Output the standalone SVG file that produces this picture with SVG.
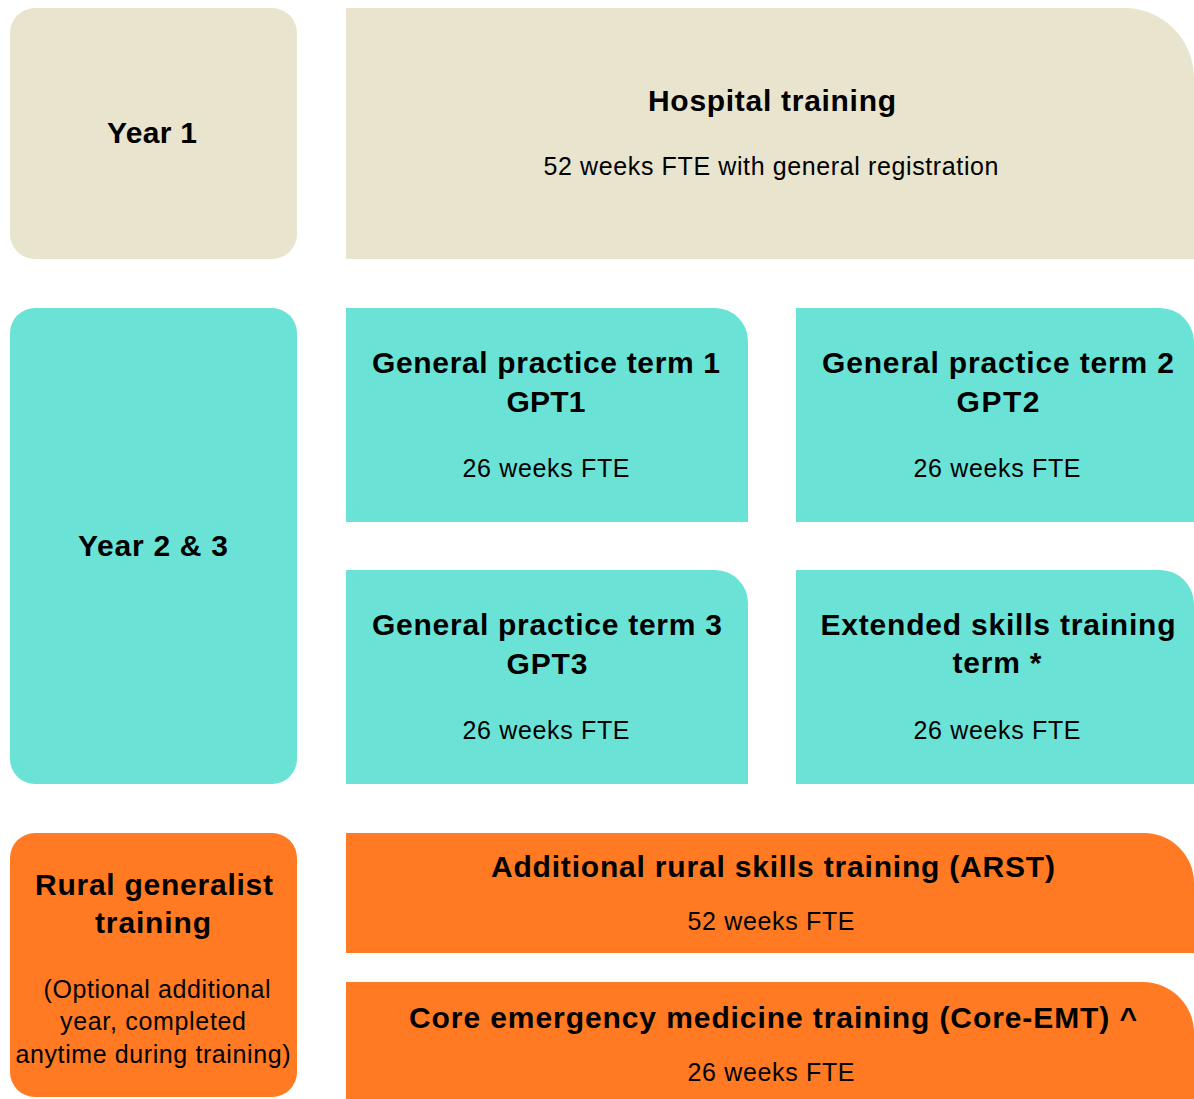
<svg xmlns="http://www.w3.org/2000/svg" width="1194" height="1099" viewBox="0 0 1194 1099">
  <style>
    .beige { fill: #E8E4CE; }
    .teal { fill: #6BE3D6; }
    .orange { fill: #FF7A21; }
    text { font-family: "Liberation Sans", Arial, sans-serif; fill: #000; text-anchor: middle; }
    .t { font-size: 30px; font-weight: bold; }
    .s { font-size: 25px; }
  </style>
  <defs>
    <filter id="soft" x="-5%" y="-5%" width="110%" height="110%">
      <feGaussianBlur stdDeviation="0.7"/>
    </filter>
  </defs>
  <rect width="1194" height="1099" fill="#FFFFFF"/>

  <g id="year1">
    <rect class="beige" x="10" y="8" width="287" height="251" rx="25" filter="url(#soft)"/>
    <text class="t" x="152" y="143" textLength="90" lengthAdjust="spacing">Year 1</text>
  </g>

  <g id="hospital">
    <path class="beige" d="M346,8 H1124 A70,70 0 0 1 1194,78 V259 H346 Z" filter="url(#soft)"/>
    <text class="t" x="772" y="111" textLength="248" lengthAdjust="spacing">Hospital training</text>
    <text class="s" x="771" y="175" textLength="455" lengthAdjust="spacing">52 weeks FTE with general registration</text>
  </g>

  <g id="year23">
    <rect class="teal" x="10" y="308" width="287" height="476" rx="25" filter="url(#soft)"/>
    <text class="t" x="153" y="556" textLength="150" lengthAdjust="spacing">Year 2 &amp; 3</text>
  </g>

  <g id="gpt1">
    <path class="teal" d="M346,308 H715 A33,33 0 0 1 748,341 V522 H346 Z" filter="url(#soft)"/>
    <text class="t" x="546" y="373" textLength="348" lengthAdjust="spacing">General practice term 1</text>
    <text class="t" x="546" y="412" textLength="79" lengthAdjust="spacing">GPT1</text>
    <text class="s" x="546" y="477" textLength="167" lengthAdjust="spacing">26 weeks FTE</text>
  </g>

  <g id="gpt2">
    <path class="teal" d="M796,308 H1160 A34,34 0 0 1 1194,342 V522 H796 Z" filter="url(#soft)"/>
    <text class="t" x="998" y="373" textLength="352" lengthAdjust="spacing">General practice term 2</text>
    <text class="t" x="998" y="412" textLength="83" lengthAdjust="spacing">GPT2</text>
    <text class="s" x="997" y="477" textLength="167" lengthAdjust="spacing">26 weeks FTE</text>
  </g>

  <g id="gpt3">
    <path class="teal" d="M346,570 H715 A33,33 0 0 1 748,603 V784 H346 Z" filter="url(#soft)"/>
    <text class="t" x="547" y="635" textLength="350" lengthAdjust="spacing">General practice term 3</text>
    <text class="t" x="547" y="674" textLength="81" lengthAdjust="spacing">GPT3</text>
    <text class="s" x="546" y="739" textLength="167" lengthAdjust="spacing">26 weeks FTE</text>
  </g>

  <g id="extended">
    <path class="teal" d="M796,570 H1160 A34,34 0 0 1 1194,604 V784 H796 Z" filter="url(#soft)"/>
    <text class="t" x="998" y="635" textLength="355" lengthAdjust="spacing">Extended skills training</text>
    <text class="t" x="997" y="673" textLength="89" lengthAdjust="spacing">term *</text>
    <text class="s" x="997" y="739" textLength="167" lengthAdjust="spacing">26 weeks FTE</text>
  </g>

  <g id="rural">
    <rect class="orange" x="10" y="833" width="287" height="264" rx="25" filter="url(#soft)"/>
    <text class="t" x="154" y="895" textLength="238" lengthAdjust="spacing">Rural generalist</text>
    <text class="t" x="153" y="933" textLength="116" lengthAdjust="spacing">training</text>
    <text class="s" x="157" y="998" textLength="227" lengthAdjust="spacing">(Optional additional</text>
    <text class="s" x="153" y="1030" textLength="186" lengthAdjust="spacing">year, completed</text>
    <text class="s" x="153" y="1063" textLength="275" lengthAdjust="spacing">anytime during training)</text>
  </g>

  <g id="arst">
    <path class="orange" d="M346,833 H1144 A50,50 0 0 1 1194,883 V953 H346 Z" filter="url(#soft)"/>
    <text class="t" x="773" y="877" textLength="564" lengthAdjust="spacing">Additional rural skills training (ARST)</text>
    <text class="s" x="771" y="930" textLength="167" lengthAdjust="spacing">52 weeks FTE</text>
  </g>

  <g id="coreemt">
    <path class="orange" d="M346,982 H1143 A51,51 0 0 1 1194,1033 V1104 H346 Z" filter="url(#soft)"/>
    <text class="t" x="773" y="1028" textLength="728" lengthAdjust="spacing">Core emergency medicine training (Core-EMT) ^</text>
    <text class="s" x="771" y="1081" textLength="167" lengthAdjust="spacing">26 weeks FTE</text>
  </g>

  <g id="connectors"></g>
</svg>
